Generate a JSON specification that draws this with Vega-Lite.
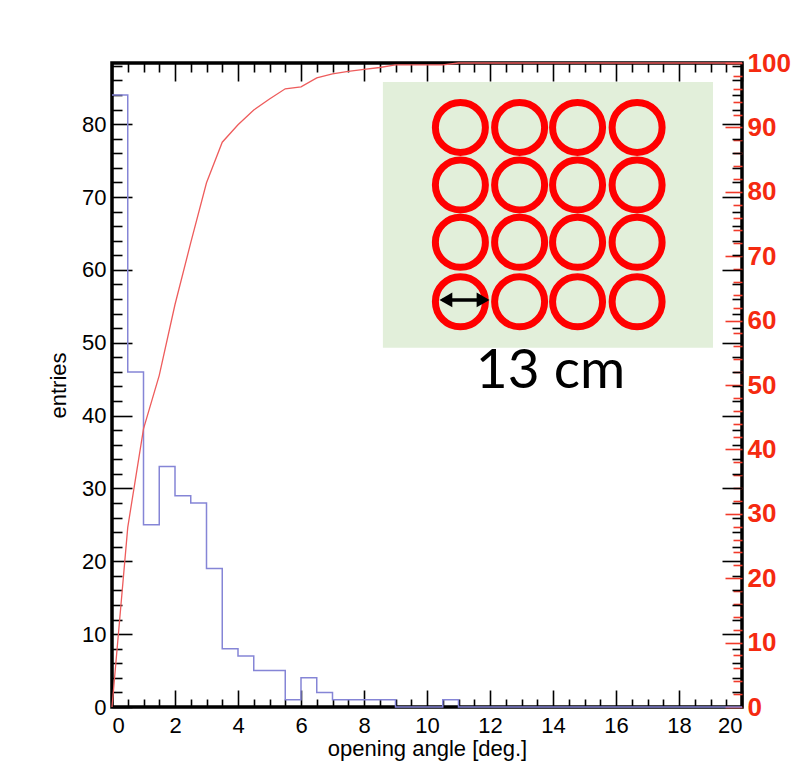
{
  "$schema": "https://vega.github.io/schema/vega-lite/v6.json",
  "width": 630,
  "height": 644,
  "autosize": {"type": "none"},
  "padding": {"left": 112, "top": 63, "right": 54, "bottom": 61},
  "background": "white",
  "config": {
    "view": {"stroke": "black", "strokeWidth": 3.5, "fill": "white"},
    "axis": {"labelFont": "Liberation Sans", "titleFont": "Liberation Sans", "domain": false, "grid": false, "tickColor": "black", "tickWidth": 1.6, "labelColor": "black", "titleColor": "black", "titleFontWeight": "normal"}
  },
  "datasets": {
    "hist": [
      {"x": 0, "n": 84}, {"x": 0.5, "n": 46}, {"x": 1, "n": 25}, {"x": 1.5, "n": 33}, {"x": 2, "n": 29}, {"x": 2.5, "n": 28}, {"x": 3, "n": 19}, {"x": 3.5, "n": 8}, {"x": 4, "n": 7}, {"x": 4.5, "n": 5}, {"x": 5, "n": 5}, {"x": 5.5, "n": 1}, {"x": 6, "n": 4}, {"x": 6.5, "n": 2}, {"x": 7, "n": 1}, {"x": 7.5, "n": 1}, {"x": 8, "n": 1}, {"x": 8.5, "n": 1}, {"x": 9, "n": 0}, {"x": 9.5, "n": 0}, {"x": 10, "n": 0}, {"x": 10.5, "n": 1}, {"x": 11, "n": 0}, {"x": 11.5, "n": 0}, {"x": 12, "n": 0}, {"x": 12.5, "n": 0}, {"x": 13, "n": 0}, {"x": 13.5, "n": 0}, {"x": 14, "n": 0}, {"x": 14.5, "n": 0}, {"x": 15, "n": 0}, {"x": 15.5, "n": 0}, {"x": 16, "n": 0}, {"x": 16.5, "n": 0}, {"x": 17, "n": 0}, {"x": 17.5, "n": 0}, {"x": 18, "n": 0}, {"x": 18.5, "n": 0}, {"x": 19, "n": 0}, {"x": 19.5, "n": 0}, {"x": 20, "n": 0}
    ],
    "cum": [
      {"x": 0, "p": 0}, {"x": 0.5, "p": 27.9}, {"x": 1, "p": 43.2}, {"x": 1.5, "p": 51.5}, {"x": 2, "p": 62.5}, {"x": 2.5, "p": 72.1}, {"x": 3, "p": 81.4}, {"x": 3.5, "p": 87.7}, {"x": 4, "p": 90.4}, {"x": 4.5, "p": 92.7}, {"x": 5, "p": 94.4}, {"x": 5.5, "p": 96.0}, {"x": 6, "p": 96.3}, {"x": 6.5, "p": 97.7}, {"x": 7, "p": 98.3}, {"x": 7.5, "p": 98.7}, {"x": 8, "p": 99.0}, {"x": 8.5, "p": 99.3}, {"x": 9, "p": 99.7}, {"x": 9.5, "p": 99.7}, {"x": 10, "p": 99.7}, {"x": 10.5, "p": 99.7}, {"x": 11, "p": 100}, {"x": 11.5, "p": 100}, {"x": 12, "p": 100}, {"x": 12.5, "p": 100}, {"x": 13, "p": 100}, {"x": 13.5, "p": 100}, {"x": 14, "p": 100}, {"x": 14.5, "p": 100}, {"x": 15, "p": 100}, {"x": 15.5, "p": 100}, {"x": 16, "p": 100}, {"x": 16.5, "p": 100}, {"x": 17, "p": 100}, {"x": 17.5, "p": 100}, {"x": 18, "p": 100}, {"x": 18.5, "p": 100}, {"x": 19, "p": 100}, {"x": 19.5, "p": 100}, {"x": 20, "p": 100}
    ],
    "box": [{"x1": 8.6, "x2": 19.08, "y1": 49.33, "y2": 85.79}],
    "circles": [
      {"cx": 11.06, "cy": 79.56}, {"cx": 12.94, "cy": 79.56}, {"cx": 14.78, "cy": 79.56}, {"cx": 16.67, "cy": 79.56},
      {"cx": 11.06, "cy": 71.66}, {"cx": 12.94, "cy": 71.66}, {"cx": 14.78, "cy": 71.66}, {"cx": 16.67, "cy": 71.66},
      {"cx": 11.06, "cy": 63.79}, {"cx": 12.94, "cy": 63.79}, {"cx": 14.78, "cy": 63.79}, {"cx": 16.67, "cy": 63.79},
      {"cx": 11.06, "cy": 55.63}, {"cx": 12.94, "cy": 55.63}, {"cx": 14.78, "cy": 55.63}, {"cx": 16.67, "cy": 55.63}
    ],
    "arrow": [{"x1": 10.5, "x2": 11.88, "y": 55.88}],
    "heads": [{"x": 10.6, "y": 55.88, "dir": "left"}, {"x": 11.78, "y": 55.88, "dir": "right"}],
    "label": [{"text": "13 cm", "x": 13.92, "y": 43.75}]
  },
  "resolve": {"scale": {"y": "independent"}, "axis": {"x": "independent", "y": "independent"}},
  "layer": [
    {
      "data": {"name": "box"},
      "mark": {"type": "rect", "fill": "#e2efda"},
      "encoding": {
        "x": {"field": "x1", "type": "quantitative", "scale": {"domain": [0, 20], "nice": false}, "axis": null},
        "x2": {"field": "x2"},
        "y": {"field": "y1", "type": "quantitative", "scale": {"domain": [0, 88.4], "nice": false}, "axis": null},
        "y2": {"field": "y2"}
      }
    },
    {
      "data": {"name": "circles"},
      "mark": {"type": "point", "shape": "circle", "filled": false, "stroke": "#ff0000", "strokeWidth": 7, "size": 2500, "opacity": 1},
      "encoding": {
        "x": {"field": "cx", "type": "quantitative", "axis": null},
        "y": {"field": "cy", "type": "quantitative", "scale": {"domain": [0, 88.4], "nice": false}, "axis": null}
      }
    },
    {
      "data": {"name": "arrow"},
      "mark": {"type": "rule", "color": "black", "strokeWidth": 3.5},
      "encoding": {
        "x": {"field": "x1", "type": "quantitative", "axis": null},
        "x2": {"field": "x2"},
        "y": {"field": "y", "type": "quantitative", "scale": {"domain": [0, 88.4], "nice": false}, "axis": null}
      }
    },
    {
      "data": {"name": "heads"},
      "mark": {"type": "point", "filled": true, "color": "black", "size": 220, "opacity": 1},
      "encoding": {
        "x": {"field": "x", "type": "quantitative", "axis": null},
        "y": {"field": "y", "type": "quantitative", "scale": {"domain": [0, 88.4], "nice": false}, "axis": null},
        "shape": {"field": "dir", "type": "nominal", "scale": {"domain": ["left", "right"], "range": ["triangle-left", "triangle-right"]}, "legend": null}
      }
    },
    {
      "data": {"name": "label"},
      "mark": {"type": "text", "font": "Lato", "fontSize": 55, "color": "black", "align": "center", "baseline": "alphabetic"},
      "encoding": {
        "x": {"field": "x", "type": "quantitative", "axis": null},
        "y": {"field": "y", "type": "quantitative", "scale": {"domain": [0, 88.4], "nice": false}, "axis": null},
        "text": {"field": "text"}
      }
    },
    {
      "data": {"name": "hist"},
      "mark": {"type": "line", "interpolate": "step-after", "color": "#8585d6", "strokeWidth": 1.5},
      "encoding": {
        "x": {"field": "x", "type": "quantitative", "scale": {"domain": [0, 20], "nice": false},
              "axis": {"orient": "bottom", "values": [0, 2, 4, 6, 8, 10, 12, 14, 16, 18, 20], "tickSize": -17, "labelFontSize": 22, "labelPadding": 25, "title": "opening angle [deg.]", "titleFontSize": 22, "titlePadding": 2}},
        "y": {"field": "n", "type": "quantitative", "scale": {"domain": [0, 88.4], "nice": false},
              "axis": {"orient": "left", "values": [0, 10, 20, 30, 40, 50, 60, 70, 80], "tickSize": -20, "labelFontSize": 22, "labelPadding": 26, "title": "entries", "titleFontSize": 22, "titlePadding": 11}}
      }
    },
    {
      "data": {"name": "cum"},
      "mark": {"type": "line", "color": "#ee5c5c", "strokeWidth": 1.3},
      "encoding": {
        "x": {"field": "x", "type": "quantitative",
              "axis": {"orient": "top", "values": [0, 2, 4, 6, 8, 10, 12, 14, 16, 18, 20], "tickSize": -18, "labels": false, "title": null}},
        "y": {"field": "p", "type": "quantitative", "scale": {"domain": [0, 100], "nice": false},
              "axis": {"orient": "right", "values": [0, 10, 20, 30, 40, 50, 60, 70, 80, 90, 100], "tickSize": -17, "tickColor": "#f03a2a", "labelColor": "#f52a10", "labelFontWeight": "bold", "labelFontSize": 26, "labelPadding": 22, "title": null}}
      }
    },
    {
      "data": {"name": "hist"},
      "mark": {"type": "line", "strokeOpacity": 0},
      "encoding": {
        "x": {"field": "x", "type": "quantitative",
              "axis": {"orient": "bottom", "values": [0.5, 1, 1.5, 2.5, 3, 3.5, 4.5, 5, 5.5, 6.5, 7, 7.5, 8.5, 9, 9.5, 10.5, 11, 11.5, 12.5, 13, 13.5, 14.5, 15, 15.5, 16.5, 17, 17.5, 18.5, 19, 19.5], "tickSize": -8, "labels": false, "title": null}},
        "y": {"field": "n", "type": "quantitative", "scale": {"domain": [0, 88.4], "nice": false},
              "axis": {"orient": "left", "values": [2, 4, 6, 8, 12, 14, 16, 18, 22, 24, 26, 28, 32, 34, 36, 38, 42, 44, 46, 48, 52, 54, 56, 58, 62, 64, 66, 68, 72, 74, 76, 78, 82, 84, 86, 88], "tickSize": -10, "labels": false, "title": null}}
      }
    },
    {
      "data": {"name": "cum"},
      "mark": {"type": "line", "strokeOpacity": 0},
      "encoding": {
        "x": {"field": "x", "type": "quantitative",
              "axis": {"orient": "top", "values": [0.5, 1, 1.5, 2.5, 3, 3.5, 4.5, 5, 5.5, 6.5, 7, 7.5, 8.5, 9, 9.5, 10.5, 11, 11.5, 12.5, 13, 13.5, 14.5, 15, 15.5, 16.5, 17, 17.5, 18.5, 19, 19.5], "tickSize": -9, "labels": false, "title": null}},
        "y": {"field": "p", "type": "quantitative", "scale": {"domain": [0, 100], "nice": false},
              "axis": {"orient": "right", "values": [2, 4, 6, 8, 12, 14, 16, 18, 22, 24, 26, 28, 32, 34, 36, 38, 42, 44, 46, 48, 52, 54, 56, 58, 62, 64, 66, 68, 72, 74, 76, 78, 82, 84, 86, 88, 92, 94, 96, 98], "tickSize": -9, "tickColor": "#f03a2a", "labels": false, "title": null}}
      }
    },
    {
      "data": {"name": "hist"},
      "mark": {"type": "line", "strokeOpacity": 0},
      "encoding": {
        "x": {"field": "x", "type": "quantitative", "axis": null},
        "y": {"field": "n", "type": "quantitative", "scale": {"domain": [0, 88.4], "nice": false},
              "axis": {"orient": "right", "values": [10, 20, 30, 40, 50, 60, 70, 80], "tickSize": -20, "labels": false, "title": null}}
      }
    },
    {
      "data": {"name": "hist"},
      "mark": {"type": "line", "strokeOpacity": 0},
      "encoding": {
        "x": {"field": "x", "type": "quantitative", "axis": null},
        "y": {"field": "n", "type": "quantitative", "scale": {"domain": [0, 88.4], "nice": false},
              "axis": {"orient": "right", "values": [2, 4, 6, 8, 12, 14, 16, 18, 22, 24, 26, 28, 32, 34, 36, 38, 42, 44, 46, 48, 52, 54, 56, 58, 62, 64, 66, 68, 72, 74, 76, 78, 82, 84, 86, 88], "tickSize": -10, "labels": false, "title": null}}
      }
    }
  ]
}
